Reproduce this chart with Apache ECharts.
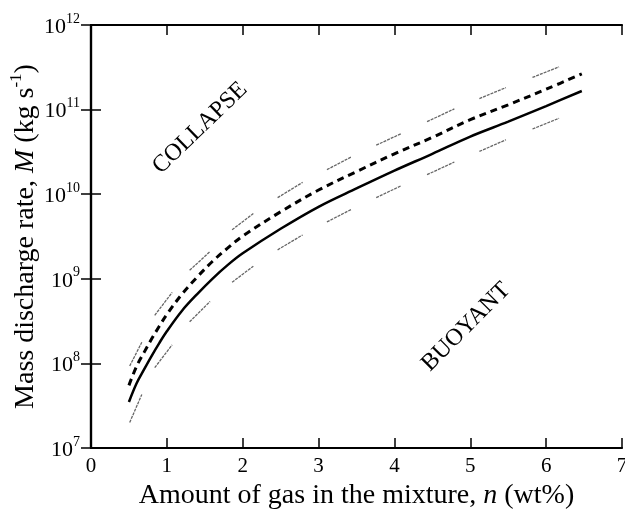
<!DOCTYPE html>
<html>
<head>
<meta charset="utf-8">
<script src="https://cdn.jsdelivr.net/npm/echarts@6/dist/echarts.min.js"></script>
<style>
html,body{margin:0;padding:0;background:#fff;}
#main{width:625px;height:509px;}
</style>
</head>
<body>
<div id="main"></div>
<script>
// gas content n (wt%) along the curves
var nCurve = [0.5, 0.6, 0.7, 0.8, 0.9, 1.0, 1.2, 1.4, 1.6, 1.8, 2.0, 2.5, 3.0, 3.5, 4.0, 4.5, 5.0, 5.5, 6.0, 6.47];
// solid curve, kg/s
var solidM = [3.5e7, 5.8e7, 8.5e7, 1.23e8, 1.74e8, 2.4e8, 4.2e8, 6.6e8, 1.0e9, 1.45e9, 2.0e9, 3.9e9, 7.1e9, 1.17e10, 1.9e10, 3.0e10, 4.8e10, 7.2e10, 1.1e11, 1.66e11];
// dashed curve, kg/s
var dashedM = [5.5e7, 9.2e7, 1.35e8, 1.95e8, 2.75e8, 3.8e8, 6.6e8, 1.05e9, 1.6e9, 2.3e9, 3.2e9, 6.2e9, 1.12e10, 1.85e10, 3.0e10, 4.7e10, 7.6e10, 1.14e11, 1.74e11, 2.65e11];

// short hatched segments (start n, end n)
var bandN = [[0.51, 0.67], [0.84, 1.07], [1.30, 1.57], [1.86, 2.14], [2.46, 2.79], [3.11, 3.43], [3.76, 4.09], [4.43, 4.79], [5.12, 5.47], [5.82, 6.17]];
var bandUpper = [[9.3e7, 1.78e8], [3.7e8, 6.9e8], [1.26e9, 2.1e9], [3.8e9, 5.9e9], [9.1e9, 1.38e10], [1.95e10, 2.75e10], [3.8e10, 5.2e10], [7.2e10, 1.02e11], [1.35e11, 1.82e11], [2.4e11, 3.2e11]];
var bandLower = [[2.0e7, 4.3e7], [8.9e7, 1.66e8], [3.1e8, 5.4e8], [9.1e8, 1.41e9], [2.2e9, 3.3e9], [4.7e9, 6.6e9], [9.1e9, 1.26e10], [1.7e10, 2.4e10], [3.2e10, 4.4e10], [5.9e10, 7.9e10]];

var xTicks = [0, 1, 2, 3, 4, 5, 6, 7];

var serif = '"Liberation Serif", "DejaVu Serif", serif';

function pairs(xs, ys){
	var out = [];
	for(var i = 0; i < xs.length; i++){
		out.push([xs[i], ys[i]]);
	}
	return out;
}
function segs(ns, vs){
	var out = [];
	for(var i = 0; i < ns.length; i++){
		out.push({coords: [[ns[i][0], vs[i][0]], [ns[i][1], vs[i][1]]]});
	}
	return out;
}

var myChart = echarts.init(document.getElementById('main'), null, {renderer: 'canvas'});

var axisLine = {show: true, lineStyle: {color: '#000', width: 2.2}};
var tick = {show: true, inside: true, length: 10, lineStyle: {color: '#000', width: 1.5}};

var option = {
	backgroundColor: '#fff',
	animation: false,
	grid: {left: 91, right: 3, top: 25, bottom: 61, containLabel: false, outerBoundsMode: 'none'},
	xAxis: [{
		type: 'value',
		min: xTicks[0],
		max: xTicks[xTicks.length - 1],
		interval: 1,
		axisLine: axisLine,
		axisTick: tick,
		splitLine: {show: false},
		axisLabel: {color: '#000', fontFamily: serif, fontSize: 21, margin: 8},
		name: '{t|Amount of gas in the mixture, }{i|n}{t| (wt%)}',
		nameLocation: 'middle',
		nameGap: 31,
		nameTextStyle: {
			rich: {
				t: {fontFamily: serif, fontSize: 28, color: '#000'},
				i: {fontFamily: serif, fontSize: 28, fontStyle: 'italic', color: '#000'}
			}
		}
	}, {
		type: 'value',
		position: 'top',
		min: xTicks[0],
		max: xTicks[xTicks.length - 1],
		interval: 1,
		axisLine: axisLine,
		axisTick: tick,
		axisLabel: {show: false},
		splitLine: {show: false}
	}],
	yAxis: [{
		type: 'log',
		logBase: 10,
		min: 1e7,
		max: 1e12,
		axisLine: axisLine,
		axisTick: tick,
		minorTick: {show: false},
		splitLine: {show: false},
		axisLabel: {
			margin: 11,
			formatter: function(v){
				var e = Math.round(Math.log(v) / Math.LN10);
				return '{b|10}{s|' + e + '}';
			},
			rich: {
				b: {fontFamily: serif, fontSize: 22, color: '#000', lineHeight: 26, verticalAlign: 'bottom'},
				s: {fontFamily: serif, fontSize: 14, color: '#000', lineHeight: 26, verticalAlign: 'top', padding: [0, 0, 10, 0]}
			}
		},
		name: '{t|Mass discharge rate, }{i|M}{t| (kg s}{s|-1}{t|)}',
		nameLocation: 'middle',
		nameRotate: 90,
		nameGap: 51,
		nameMoveOverlap: false,
		nameTextStyle: {
			rich: {
				t: {fontFamily: serif, fontSize: 28, color: '#000', lineHeight: 32, verticalAlign: 'bottom'},
				i: {fontFamily: serif, fontSize: 28, fontStyle: 'italic', color: '#000', lineHeight: 32, verticalAlign: 'bottom'},
				s: {fontFamily: serif, fontSize: 17, color: '#000', lineHeight: 32, verticalAlign: 'top'}
			}
		}
	}, {
		type: 'log',
		logBase: 10,
		position: 'right',
		min: 1e7,
		max: 1e12,
		axisLine: axisLine,
		axisTick: tick,
		axisLabel: {show: false},
		splitLine: {show: false}
	}],
	series: [{
		name: 'upper',
		type: 'lines',
		coordinateSystem: 'cartesian2d',
		polyline: false,
		data: segs(bandN, bandUpper),
		lineStyle: {color: '#666', width: 1.3, type: [3, 1], opacity: 1},
		silent: true
	}, {
		name: 'lower',
		type: 'lines',
		coordinateSystem: 'cartesian2d',
		polyline: false,
		data: segs(bandN, bandLower),
		lineStyle: {color: '#666', width: 1.3, type: [3, 1], opacity: 1},
		silent: true
	}, {
		name: 'dashed',
		type: 'line',
		smooth: 0.35,
		showSymbol: false,
		data: pairs(nCurve, dashedM),
		lineStyle: {color: '#000', width: 3, type: [7, 5]}
	}, {
		name: 'solid',
		type: 'line',
		smooth: 0.35,
		showSymbol: false,
		data: pairs(nCurve, solidM),
		lineStyle: {color: '#000', width: 2.5}
	}],
	graphic: [{
		type: 'text',
		x: 200,
		y: 128,
		rotation: Math.PI / 4.1,
		style: {text: 'COLLAPSE', font: '24px ' + serif, fill: '#000', align: 'center', verticalAlign: 'middle', textAlign: 'center', textVerticalAlign: 'middle'}
	}, {
		type: 'text',
		x: 466,
		y: 327,
		rotation: Math.PI / 4,
		style: {text: 'BUOYANT', font: '24px ' + serif, fill: '#000', align: 'center', verticalAlign: 'middle', textAlign: 'center', textVerticalAlign: 'middle'}
	}]
};
myChart.setOption(option, true);
</script>
</body>
</html>
